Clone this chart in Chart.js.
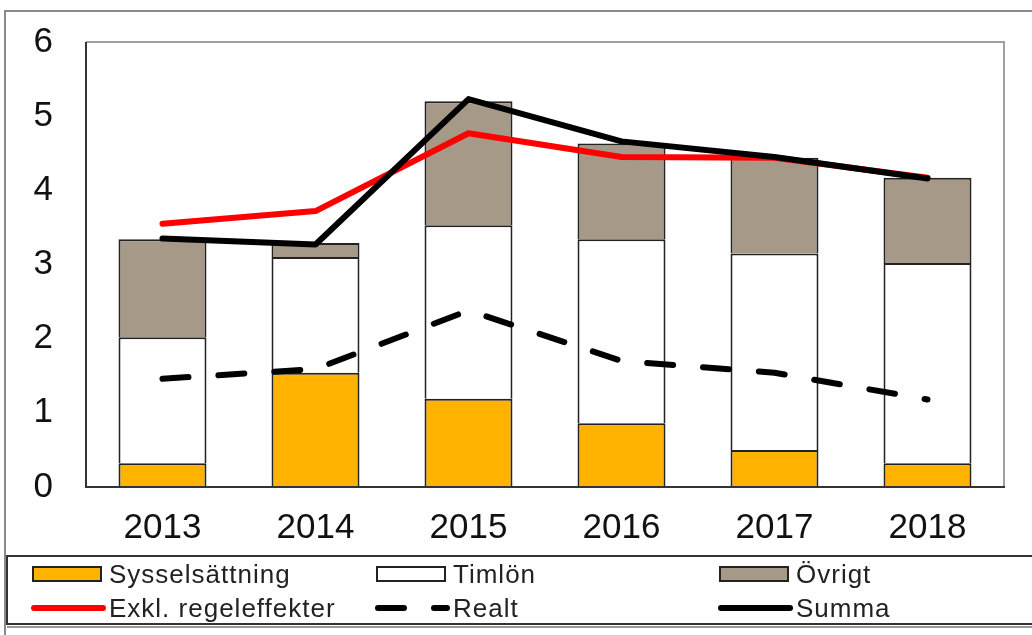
<!DOCTYPE html>
<html>
<head>
<meta charset="utf-8">
<script src="https://cdn.jsdelivr.net/npm/chart.js@4/dist/chart.umd.min.js"></script>
<style>
  html, body { margin: 0; padding: 0; background: #fff; }
  canvas { display: block; }
</style>
</head>
<body>
<canvas id="chart" width="1032" height="635"></canvas>
<script>
// data
const years = ["2013", "2014", "2015", "2016", "2017", "2018"];
const sysselsattning = [0.32, 1.54, 1.19, 0.86, 0.50, 0.32];
const timlon = [1.70, 1.56, 2.34, 2.48, 2.65, 2.70];
const ovrigt = [1.32, 0.19, 1.67, 1.29, 1.29, 1.15];
const exklRegel = [3.55, 3.72, 4.77, 4.45, 4.44, 4.17];
const realt = [1.46, 1.59, 2.38, 1.70, 1.54, 1.18];
const summa = [3.35, 3.27, 5.23, 4.66, 4.45, 4.16];
const yTicks = [0, 1, 2, 3, 4, 5, 6];

const FONT = "'Liberation Sans', Arial, sans-serif";
const ORANGE = "#FFB300";
const TAUPE = "#A69988";
const EDGE = "#222";

const barBorder = { top: 2, left: 2, right: 2, bottom: 0 };

// white page + outer frame + plot border
const framePlugin = {
  id: "frame",
  beforeDraw(chart) {
    const ctx = chart.ctx;
    ctx.save();
    ctx.fillStyle = "#fff";
    ctx.fillRect(0, 0, chart.width, chart.height);
    ctx.strokeStyle = "#8a8a8a";
    ctx.lineWidth = 2;
    ctx.beginPath();
    ctx.moveTo(5, chart.height);
    ctx.lineTo(5, 11);
    ctx.lineTo(chart.width, 11);
    ctx.stroke();
    ctx.restore();
  },
  afterDatasetsDraw(chart) {
    const { ctx, chartArea: a } = chart;
    ctx.save();
    ctx.lineWidth = 2;
    ctx.strokeStyle = "#a0a0a0";
    ctx.beginPath();
    ctx.moveTo(a.left, a.top);
    ctx.lineTo(a.right, a.top);
    ctx.lineTo(a.right, a.bottom);
    ctx.stroke();
    ctx.strokeStyle = "#333";
    ctx.beginPath();
    ctx.moveTo(a.left, a.top);
    ctx.lineTo(a.left, a.bottom);
    ctx.lineTo(a.right + 1, a.bottom);
    ctx.stroke();
    ctx.restore();
  }
};

// legend in 3 columns x 2 rows, like the original
const gridLegend = {
  id: "gridLegend",
  afterDraw(chart) {
    const ctx = chart.ctx;
    const cols = [33, 377, 720];
    const rows = [574, 608];
    ctx.save();
    ctx.strokeStyle = "#333";
    ctx.lineWidth = 2;
    ctx.strokeRect(7, 556, chart.width + 10, 68);
    ctx.strokeStyle = "#999";
    ctx.beginPath();
    ctx.moveTo(7, 627);
    ctx.lineTo(chart.width, 627);
    ctx.stroke();

    ctx.font = "26px " + FONT;
    ctx.letterSpacing = "1px";
    ctx.fillStyle = "#222";
    ctx.textBaseline = "middle";
    chart.data.datasets.forEach((ds, i) => {
      const x = cols[i % 3];
      const y = rows[Math.floor(i / 3)];
      if (ds.type === "line") {
        ctx.save();
        ctx.strokeStyle = ds.borderColor;
        ctx.lineWidth = ds.borderWidth;
        ctx.lineCap = "round";
        ctx.setLineDash(ds.borderDash || []);
        ctx.beginPath();
        ctx.moveTo(x + 1, y);
        ctx.lineTo(x + 70, y);
        ctx.stroke();
        ctx.restore();
      } else {
        ctx.fillStyle = ds.backgroundColor;
        ctx.fillRect(x, y - 7, 68, 14);
        ctx.strokeStyle = EDGE;
        ctx.lineWidth = 2;
        ctx.strokeRect(x, y - 7, 68, 14);
        ctx.fillStyle = "#222";
      }
      ctx.fillText(ds.label, x + 76, y + 2);
    });
    ctx.restore();
  }
};

const ctx = document.getElementById("chart");
new Chart(ctx, {
  type: "bar",
  data: {
    labels: years,
    datasets: [
      { label: "Sysselsättning", data: sysselsattning, backgroundColor: ORANGE, borderColor: EDGE, borderWidth: barBorder, borderSkipped: false, stack: "bars", order: 3 },
      { label: "Timlön", data: timlon, backgroundColor: "#fff", borderColor: EDGE, borderWidth: barBorder, borderSkipped: false, stack: "bars", order: 3 },
      { label: "Övrigt", data: ovrigt, backgroundColor: TAUPE, borderColor: EDGE, borderWidth: barBorder, borderSkipped: false, stack: "bars", order: 3 },
      { type: "line", label: "Exkl. regeleffekter", data: exklRegel, borderColor: "#FF0000", borderWidth: 6, pointRadius: 0, tension: 0, borderCapStyle: "round", borderJoinStyle: "round", stack: "l1", order: 1 },
      { type: "line", label: "Realt", data: realt, borderColor: "#000", borderWidth: 6, borderDash: [26, 30], pointRadius: 0, tension: 0, borderCapStyle: "round", borderJoinStyle: "round", stack: "l2", order: 2 },
      { type: "line", label: "Summa", data: summa, borderColor: "#000", borderWidth: 6, pointRadius: 0, tension: 0, borderCapStyle: "round", borderJoinStyle: "round", stack: "l3", order: 0 }
    ]
  },
  options: {
    responsive: false,
    animation: false,
    devicePixelRatio: 1,
    layout: { padding: { top: 42, right: 28, bottom: 88, left: 0 } },
    datasets: { bar: { categoryPercentage: 1, barPercentage: 0.575 } },
    plugins: { legend: { display: false }, tooltip: { enabled: false } },
    scales: {
      x: {
        stacked: true,
        grid: { display: false, drawTicks: false },
        border: { display: false },
        ticks: { color: "#111", font: { family: FONT, size: 35 }, padding: 20, maxRotation: 0 },
        afterFit(scale) { scale.height = 60; }
      },
      y: {
        stacked: true,
        min: yTicks[0],
        max: yTicks[yTicks.length - 1],
        grid: { display: false, drawTicks: false },
        border: { display: false },
        ticks: { stepSize: 1, color: "#111", font: { family: FONT, size: 35 }, padding: 33 },
        afterFit(scale) {
          scale.width = 86;
          // tick padding would otherwise push the plot top down
          scale.paddingTop = 0;
          scale.paddingBottom = 0;
        }
      }
    }
  },
  plugins: [framePlugin, gridLegend]
});
</script>
</body>
</html>
